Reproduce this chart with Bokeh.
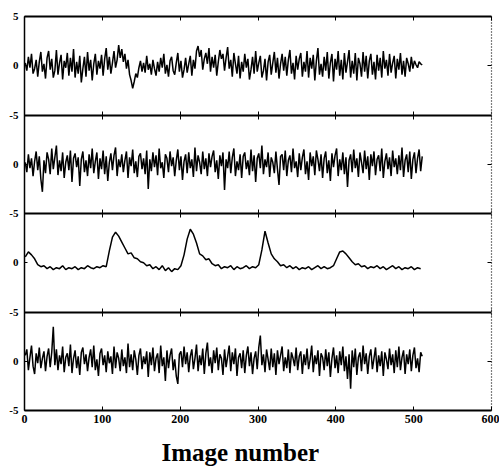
from bokeh.plotting import figure
from bokeh.models import Range1d, LinearAxis, FixedTicker, Title
from bokeh.embed import file_html
from bokeh.resources import INLINE

# ---- data ----
image_number = list(range(1, 512, 2))
image_number_coarse = list(range(1, 512, 4))

signal_1 = [0.3, -0.5, 0.9, -0.2, 1.2, -0.8, -0.3, 0.6, -1.1, 0.4, 1.4, -0.6, 0.2, -1.3, 0.8, 1.5,
            -0.4, 0.7, -1.2, -0.5, 1.6, -0.9, 0.3, 1.1, -1.4, 0.5, -0.2, 1.3, -1.0, 0.8, -0.6, 1.7,
            -1.2, 0.4, -0.8, 1.0, -1.7, -0.3, 0.9, -1.1, 1.4, -0.5, 0.6, -1.5, 0.2, 1.2, -0.9, 0.5,
            -0.3, 1.1, -1.0, 0.7, 1.8, -0.4, 0.9, -0.8, 0.3, 1.5, -0.2, 0.6, 2.1, 0.8, 1.7, 0.4,
            1.2, -0.3, 0.6, -0.9, -1.5, -2.3, -1.6, -0.8, -1.2, -0.2, 0.5, -0.6, 0.3, -0.7, 1.0, -0.4,
            0.2, -0.9, 0.6, -0.3, -1.0, 0.4, -0.6, 0.8, -0.2, 1.2, -0.8, 0.1, -1.1, 0.5, 0.9, -0.5,
            -0.9, 0.3, 1.3, -0.6, 0.5, -1.2, -0.4, 0.8, -0.7, 0.2, 1.0, -1.0, 0.6, -0.3, 1.5, 2.0,
            0.9, 1.6, -0.4, 0.7, 1.3, 0.2, 1.8, -0.6, 0.9, -0.2, 1.1, -1.0, 0.4, 1.6, 0.7, 1.2,
            -0.5, 0.8, 1.9, -0.3, 0.6, -1.1, 1.3, 0.2, -0.8, 1.0, -1.3, 0.4, -0.6, 1.2, -0.2, 0.7,
            -1.4, -0.4, 0.9, -0.8, 1.5, -0.6, 0.3, 1.0, -1.2, -0.5, 0.7, -1.5, 0.4, 1.1, -0.9, 0.3,
            1.4, -0.7, 0.8, -1.3, 0.2, 1.2, -0.5, 0.9, -1.0, 0.6, 1.6, -0.8, 0.3, -1.4, 1.0, -0.4,
            0.7, 1.3, -1.1, 0.4, -0.6, 1.5, -1.2, 0.8, -0.3, 1.1, -1.5, 0.5, 1.8, -0.9, 0.2, -1.1,
            0.9, -0.5, 1.4, -1.3, 0.3, 1.2, -1.6, 0.7, -0.4, 1.5, -1.0, 0.6, -1.4, 1.3, -0.7, 0.4,
            1.6, -1.2, 0.5, -0.8, 1.3, -1.5, 0.8, 0.2, -1.1, 1.4, -0.6, 1.0, -1.3, 0.5, 1.2, -0.9,
            0.4, -1.4, 1.1, -0.5, 0.8, -1.2, 1.5, -0.3, 0.6, -1.0, 1.2, -0.7, 0.3, 1.0, -1.3, 0.7,
            -0.4, 1.3, -0.9, 0.5, -1.1, 0.8, 0.2, -0.6, 0.9, -0.3, 0.5, 0.1, -0.2, 0.4, 0.2, 0.1]

signal_2 = [0.2, -0.8, 1.0, -0.4, 0.6, -1.2, 0.3, 1.3, -0.6, 0.8, -1.5, -2.8, 0.4, -0.9, 1.2, 0.5,
            -1.0, 1.6, -0.5, 0.7, 1.9, -1.1, 0.4, -0.7, 1.2, -1.4, 0.2, 0.9, -0.6, 1.4, -1.8, 0.6,
            1.1, -0.3, 0.7, -2.2, 0.5, 1.3, -0.8, 0.4, -1.2, 1.0, -0.4, 1.6, -0.9, 0.3, 1.2, -1.5,
            0.6, -0.5, 1.4, -1.0, 0.8, -1.7, 0.2, 1.1, -0.6, 0.9, 1.7, -1.2, 0.5, -0.3, 1.0, -0.8,
            0.4, 1.3, -1.4, 0.7, -0.2, 1.5, -0.9, 0.3, -1.3, 0.8, 1.1, -0.5, 0.6, -1.0, 1.4, -2.5,
            0.5, -0.7, 1.2, -0.3, 0.9, -1.1, 1.6, -0.4, 0.2, -1.4, 1.0, 0.6, -0.8, 1.3, -0.2, 0.7,
            -1.2, 0.4, 1.5, -0.6, 0.8, -1.6, 0.3, 1.0, -0.9, 1.2, -0.4, 0.5, -1.3, 1.7, -0.7, 0.9,
            0.2, -1.0, 1.3, -0.5, 0.6, -1.2, 1.1, -0.3, 0.8, 1.4, -0.8, 0.4, -1.5, 0.9, -0.2, 1.2,
            -2.6, 0.5, -0.4, 1.3, -0.9, 0.7, 1.6, -1.2, 0.3, -0.6, 1.0, -1.4, 0.8, 1.2, -0.5, 0.4,
            -1.1, 1.5, -0.7, 0.9, -1.8, 0.6, 1.1, -0.4, 1.9, -1.0, 0.5, -0.3, 1.2, -1.3, 0.7, 0.2,
            -0.9, 1.3, -0.5, -2.1, 0.8, 1.0, -0.6, 1.4, -1.2, 0.4, 0.9, -0.8, 1.6, -0.4, 0.3, -1.3,
            1.1, -0.6, 0.7, 1.5, -1.0, 0.3, -1.6, 1.2, -0.2, 0.8, -1.1, 1.4, 0.5, -0.7, 1.0, -1.4,
            0.6, 1.3, -0.9, 0.4, -1.7, 1.1, -0.3, 0.9, 1.6, -1.2, 0.5, -0.6, 1.2, -1.0, 0.7, -2.3,
            0.4, 1.0, -0.8, 1.5, -0.4, 0.6, -1.3, 1.2, 0.2, -0.9, 1.4, -0.5, 0.8, -1.6, 1.0, -0.2,
            1.3, -1.1, 0.5, 0.9, -0.7, 1.6, -1.4, 0.3, 1.1, -0.5, 0.7, -1.2, 1.4, -0.3, 0.6, -1.0,
            0.9, -0.6, 1.7, -1.3, 0.4, 1.0, -0.8, 1.3, -1.5, 0.5, 1.2, -0.9, 0.6, 1.5, -0.7, 0.8]

signal_3 = [0.6, 1.1, 0.8, 0.4, -0.2, -0.4, -0.3, -0.6, -0.4, -0.7, -0.5, -0.6, -0.3, -0.7, -0.5, -0.6,
            -0.4, -0.7, -0.5, -0.6, -0.3, -0.5, -0.6, -0.4, -0.5, -0.3, -0.4, 1.2, 2.6, 3.1, 2.7, 2.1,
            1.5, 0.9, 1.0, 0.5, 0.4, 0.1, 0.0, -0.3, -0.2, -0.6, -0.4, -0.7, -0.3, -0.8, -0.5, -0.9,
            -0.6, -0.7, -0.3, 0.8, 2.4, 3.4, 2.9, 2.0, 0.9, 0.7, 0.3, 0.4, -0.1, -0.3, -0.2, -0.6,
            -0.4, -0.5, -0.3, -0.7, -0.4, -0.6, -0.5, -0.3, -0.6, -0.4, -0.5, -0.2, 1.3, 3.2, 2.0, 0.9,
            0.4, 0.1, -0.3, -0.2, -0.5, -0.3, -0.6, -0.4, -0.7, -0.5, -0.6, -0.4, -0.7, -0.5, -0.3, -0.6,
            -0.4, -0.6, -0.5, -0.3, 0.4, 1.1, 1.2, 0.9, 0.5, 0.1, -0.2, -0.1, -0.4, -0.3, -0.6, -0.4,
            -0.5, -0.3, -0.6, -0.4, -0.7, -0.5, -0.3, -0.6, -0.4, -0.7, -0.5, -0.6, -0.4, -0.7, -0.5, -0.6]

signal_4 = [0.6, 1.2, -0.9, 0.4, 1.6, -0.5, -1.3, 0.8, -0.2, 1.4, -0.7, 0.3, 1.0, -1.0, 0.5, 1.3,
            -0.6, 0.9, 3.5, -0.4, 1.2, -0.9, 0.6, -0.3, 1.5, -1.1, 0.4, 0.8, -0.5, 1.7, -1.2, 0.3,
            1.1, -0.7, 0.5, -1.4, 0.9, 1.4, -0.3, 0.7, -1.0, 0.4, 1.2, -0.6, 1.6, -0.9, 0.2, -1.5,
            0.8, 1.3, -0.4, 0.6, -1.1, 1.0, -0.2, 0.5, -1.3, 1.5, -0.7, 0.9, 0.3, -1.0, 1.2, -0.5,
            0.4, -1.2, 1.8, -0.6, 0.7, -0.9, 1.1, 0.2, -1.4, 0.6, 1.3, -0.8, 0.5, -0.3, 1.0, -1.6,
            0.9, -0.4, 1.4, -1.0, 0.3, 0.8, -1.2, 1.6, -0.5, 0.4, -2.0, 1.1, -0.7, 0.6, 1.3, -0.9,
            0.2, -1.5, -2.3, 0.7, 1.0, -0.6, 1.5, -0.3, 0.9, -1.1, 0.5, 1.2, -0.8, 0.3, 1.7, -1.0,
            0.6, -0.4, 1.3, -1.3, 0.8, 1.9, -0.5, 0.4, -1.2, 1.1, -0.2, 1.4, -0.9, 0.7, 0.3, -1.4,
            1.2, -0.6, 0.5, 1.6, -1.0, 0.9, -0.3, 1.3, -1.5, 0.4, 0.8, -0.7, 1.1, -1.2, 0.6, 1.5,
            -0.5, 0.9, -1.3, 0.3, 1.0, -0.8, 1.4, 2.6, -0.4, 0.7, -1.1, 1.2, 0.2, -0.9, 1.3, -0.6,
            0.8, -1.4, 1.1, -0.3, 0.6, 1.5, -1.0, 0.4, -0.7, 1.2, -1.2, 0.9, 0.3, -0.5, 1.4, -0.9,
            0.5, 1.0, -1.3, 0.7, -0.4, 1.3, -0.8, 0.2, 1.6, -1.1, 0.6, -0.3, 1.1, -1.5, 0.8, 0.4,
            -0.9, 1.2, -0.5, 0.9, -1.6, 0.3, 1.4, -0.7, 0.6, -1.2, 1.0, -0.4, 1.5, -1.0, 0.5, -1.8,
            0.7, -2.8, 1.1, -0.6, 1.3, -1.4, 0.4, 0.9, -1.0, 1.6, -0.3, 0.8, -1.3, 0.5, 1.2, -0.8,
            0.3, 1.4, -1.1, 0.6, -0.5, 1.0, -1.5, 0.9, 0.2, -0.8, 1.3, -0.4, 0.7, -1.2, 1.1, -0.6,
            1.5, -0.9, 0.4, 1.1, -1.3, 0.7, -0.3, 1.2, -1.0, 0.6, 1.4, -0.7, 0.3, -1.1, 0.9, 0.5]

series = [(image_number, signal_1), (image_number, signal_2),
          (image_number_coarse, signal_3), (image_number, signal_4)]

x_ticks = [0, 100, 200, 300, 400, 500, 600]
panel_ylim = (-5, 5)
panel_yticks = [5, 0, -5]
n_panels = 4

# stacked coordinate system: panel 1 native (-5..5) at top, each lower panel shifted by -10
span = panel_ylim[1] - panel_ylim[0]
stack_range = Range1d(panel_ylim[0] - span * (n_panels - 1), panel_ylim[1])

FONT = "Liberation Serif"

p = figure(frame_width=467, frame_height=394,
           x_range=Range1d(0, 600), y_range=stack_range,
           output_backend="svg", toolbar_location=None,
           x_axis_location=None, y_axis_location=None,
           min_border_left=24, min_border_right=8, min_border_top=16,
           min_border_bottom=10)
p.outline_line_color = None
p.xgrid.visible = False
p.ygrid.visible = False
p.background_fill_color = "white"
p.border_fill_color = "white"

for k, (xs, sig) in enumerate(series):
    name = "panel_%d" % (k + 1)
    p.extra_y_ranges[name] = Range1d(stack_range.start + span * k, stack_range.end + span * k)
    p.line(xs, sig, y_range_name=name, line_color="black", line_width=1.5)

# left axis: labels of each panel (upper panel's -5 wins at each junction)
left_ticks = []
left_labels = {}
for k in range(n_panels):
    for t in panel_yticks:
        pos = t - span * k
        if pos not in left_labels:
            left_ticks.append(pos)
            left_labels[pos] = str(t)
left = LinearAxis(ticker=FixedTicker(ticks=left_ticks), major_label_overrides=left_labels)
left.major_tick_in = 3
left.major_tick_out = 0
left.minor_tick_line_color = None
left.axis_line_width = 1.5
left.major_label_standoff = 6
left.major_label_text_font = FONT
left.major_label_text_font_style = "bold"
left.major_label_text_font_size = "11px"
left.major_label_text_color = "black"
p.add_layout(left, "left")


def unlabeled(axis):
    axis.minor_tick_line_color = None
    axis.major_label_text_font_size = "1px"
    axis.major_label_text_color = None
    axis.major_label_standoff = 0


# right axis: dotted border with a tick at each panel's zero
right = LinearAxis(ticker=FixedTicker(ticks=[0 - span * k for k in range(n_panels)]))
right.major_tick_in = 4
right.major_tick_out = 0
right.axis_line_dash = "1 2"
right.axis_line_width = 1.2
unlabeled(right)
p.add_layout(right, "right")

# top axis
top = LinearAxis(ticker=FixedTicker(ticks=x_ticks))
top.major_tick_in = 4
top.major_tick_out = 0
top.axis_line_width = 2
unlabeled(top)
p.add_layout(top, "above")

# panel separators with crossing ticks
for k in range(1, n_panels):
    sep = LinearAxis(ticker=FixedTicker(ticks=x_ticks), fixed_location=panel_ylim[0] - span * (k - 1))
    sep.major_tick_in = 4
    sep.major_tick_out = 4
    sep.axis_line_width = 2.2
    unlabeled(sep)
    p.add_layout(sep, "below")

# bottom axis
bottom = LinearAxis(ticker=FixedTicker(ticks=x_ticks))
bottom.major_tick_in = 4
bottom.major_tick_out = 0
bottom.minor_tick_line_color = None
bottom.axis_line_width = 2
bottom.major_label_standoff = 4
bottom.major_label_text_font = FONT
bottom.major_label_text_font_style = "bold"
bottom.major_label_text_font_size = "12px"
bottom.major_label_text_color = "black"
p.add_layout(bottom, "below")

title = Title(text="Image number", align="left", offset=137,
              text_font=FONT, text_font_style="bold", text_font_size="25px",
              text_color="black", standoff=22)
p.add_layout(title, "below")

open("out.html", "w").write(file_html(p, INLINE))
